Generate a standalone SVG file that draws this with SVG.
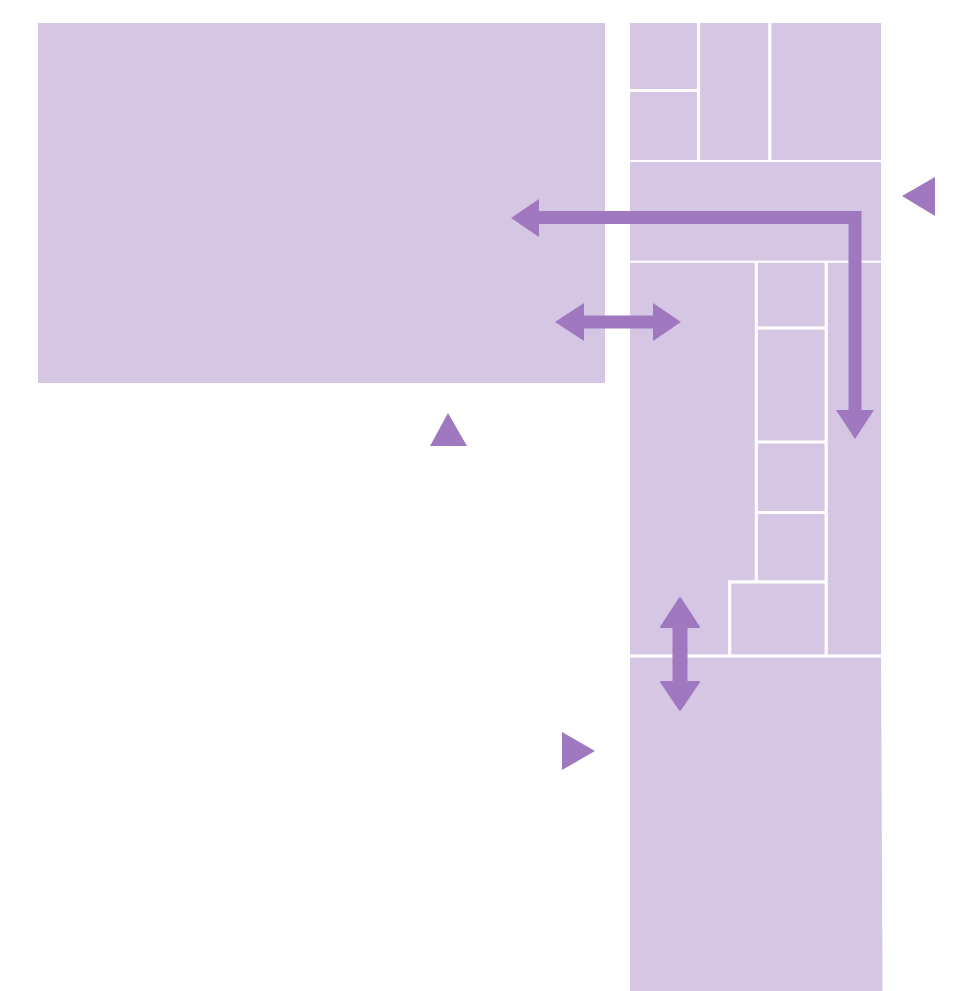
<svg xmlns="http://www.w3.org/2000/svg" width="957" height="991" viewBox="0 0 957 991">
<style>
.room{fill:#d5c6e4}
.wall{fill:none;stroke:#fff;stroke-width:3.2}
.thin{fill:none;stroke:#fff;stroke-width:2}
.arrow{fill:#9f78c0}
.round{fill:#9f78c0;stroke:#9f78c0;stroke-width:2;stroke-linejoin:round}
.shaft{fill:none;stroke:#9f78c0;stroke-width:13}
</style>
<rect width="957" height="991" fill="#fff"/>
<g id="rooms">
<rect id="hall" class="room" x="38" y="23" width="567" height="360"/>
<polygon id="wing" class="room" points="630,23 881,23 881,657 882.500,991 630,991"/>
</g>
<g id="walls">
<path class="wall" d="M630 90.500H698M698.500 23V161M769.800 23V161M756.300 262V582M826.200 262V656M757 328H826M757 442H826M757 512.500H826M728.100 581.800H826M729.700 582V656M630 656H881"/>
<path class="thin" d="M630 161H881M630 261.700H881"/>
</g>
<g id="connectors">
<path class="shaft" d="M535 217.500H855V414"/>
<polygon class="arrow" points="511,218 539,199 539,237"/>
<polygon class="arrow" points="855,439 836,410 874,410"/>
<path class="shaft" d="M580 322H656"/>
<polygon class="arrow" points="555,322 584,303 584,341"/>
<polygon class="arrow" points="681,322 653,303 653,341"/>
<path class="shaft" d="M680 622V686" style="stroke-width:15"/>
<polygon class="round" points="680,598 661,627 699,627"/>
<polygon class="round" points="680,710 661,682 699,682"/>
</g>
<g id="markers">
<polygon class="arrow" points="902,196 935,177 935,216"/>
<polygon class="arrow" points="448,413 430,446 467,446"/>
<polygon class="arrow" points="595,751 562,732 562,770"/>
</g>
</svg>
